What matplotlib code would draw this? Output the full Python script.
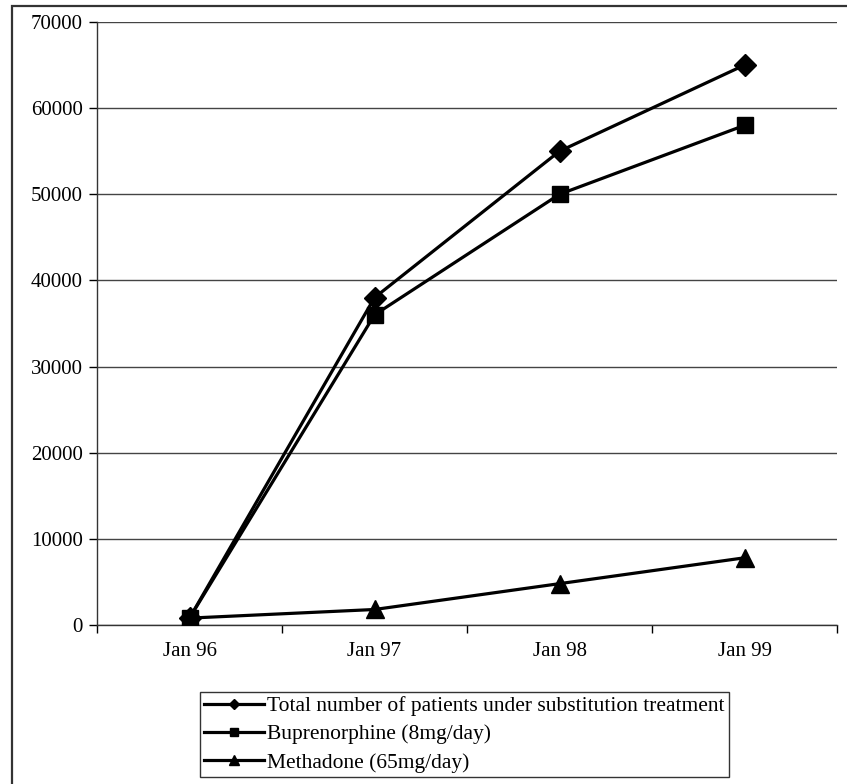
import matplotlib
matplotlib.use('Agg')
from matplotlib import pyplot as plt
from matplotlib.patches import Rectangle

plt.rcParams['font.family'] = ['Liberation Serif', 'DejaVu Serif']

# data
labels = ['Jan 96', 'Jan 97', 'Jan 98', 'Jan 99']
total = [800, 38000, 55000, 65000]
bupre = [800, 36000, 50000, 58000]
metha = [800, 1800, 4800, 7800]

W, H = 847, 784
fig = plt.figure(figsize=(W / 100, H / 100), dpi=100)
ax = fig.add_axes([97 / W, 1 - 625 / H, (837 - 97) / W, (625 - 22) / H])

x = range(len(labels))
l1, = ax.plot(x, total, 'k-', lw=2.3, marker='D', ms=11, zorder=3,
              label='Total number of patients under substitution treatment')
l3, = ax.plot(x, metha, 'k-', lw=2.3, marker='^', ms=13, zorder=3,
              label='Methadone (65mg/day)')
l2, = ax.plot(x, bupre, 'k-', lw=2.3, marker='s', ms=12, zorder=4,
              label='Buprenorphine (8mg/day)')

ax.set_xlim(-0.5, len(labels) - 0.5)
ax.set_ylim(0, 70000)
ax.set_yticks(range(0, 70001, 10000))
ax.set_yticklabels([str(v) for v in range(0, 70001, 10000)])
ax.set_xticks(list(x))
ax.set_xticklabels(labels)
ax.set_xticks([i - 0.5 for i in range(len(labels) + 1)], minor=True)
ax.tick_params(axis='x', which='major', length=0, pad=12, labelsize=15)
ax.tick_params(axis='x', which='minor', length=6, width=1, direction='out')
ax.tick_params(axis='y', length=6, width=1, direction='out', pad=4, labelsize=15)
ax.yaxis.grid(True, color='#444444', lw=1)
ax.set_axisbelow(True)
for s in ['top', 'right']:
    ax.spines[s].set_visible(False)
for s in ['left', 'bottom']:
    ax.spines[s].set_color('#333333')
    ax.spines[s].set_linewidth(1)

leg = fig.legend(handles=[l1, l2, l3], loc='lower left',
                 bbox_to_anchor=(200 / W, 1 - 777 / H), fontsize=15.5,
                 markerscale=0.5, handlelength=2.75, handletextpad=0.15,
                 labelspacing=0.38, borderpad=0.2, borderaxespad=0,
                 frameon=True, fancybox=False)
leg.get_frame().set_edgecolor('black')
leg.get_frame().set_linewidth(1)

# outer frame (right and bottom edges fall outside the picture)
fig.patches.append(Rectangle((12 / W, -0.05), 1.0, 1 - 6 / H + 0.05,
                             transform=fig.transFigure, fill=False,
                             edgecolor='#333333', lw=1.6))

fig.savefig('out.png', dpi=100)
